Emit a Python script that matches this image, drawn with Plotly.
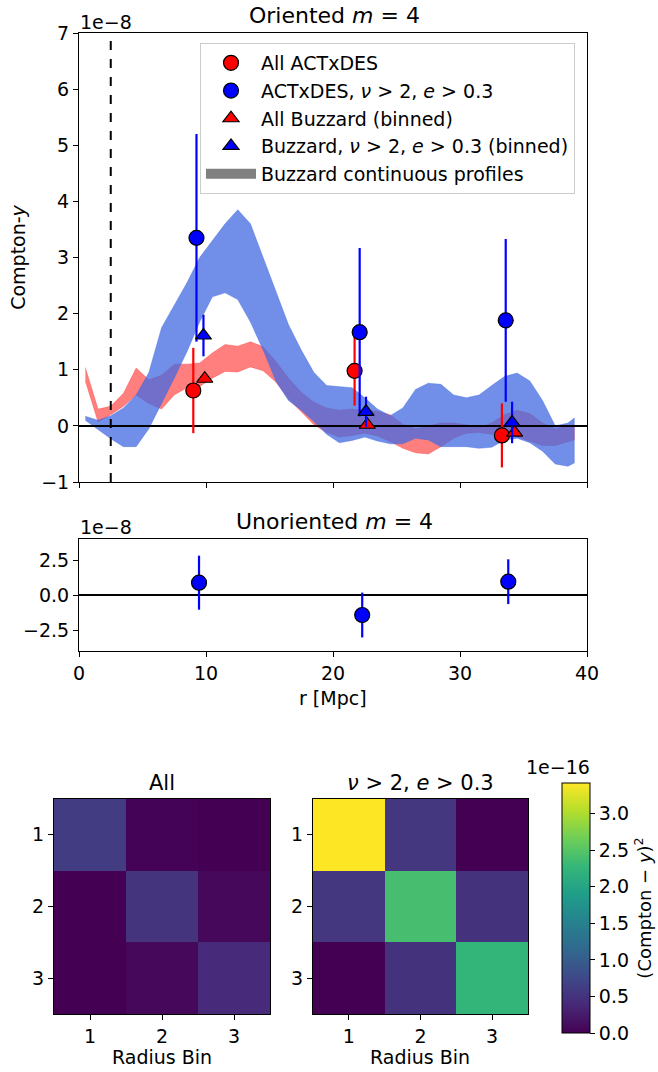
import plotly.graph_objects as go

# ---------------- data (units: 1e-8 for Compton-y, 1e-16 for covariance) ----------------
r_band = [0.5, 1.5, 2.5, 3.5, 4.5, 5.5, 6.5, 7.5, 8.5, 9.5, 10.5, 11.5, 12.5, 13.5, 14.5,
          15.5, 16.5, 17.5, 18.5, 19.5, 20.5, 21.5, 22.5, 23.5, 24.5, 25.5, 26.5, 27.5,
          28.5, 29.5, 30.5, 31.5, 32.5, 33.5, 34.5, 35.5, 36.5, 37.5, 38.5, 39.0]
red_hi = [1.04, 0.30, 0.35, 0.58, 1.03, 0.82, 0.90, 1.10, 1.10, 1.12, 1.30, 1.45, 1.42, 1.50,
          1.41, 1.15, 0.85, 0.60, 0.42, 0.32, 0.28, 0.30, 0.28, 0.26, 0.20, 0.03, -0.05, 0.00,
          0.05, 0.05, 0.02, -0.03, 0.05, 0.20, 0.28, 0.22, 0.05, -0.05, 0.00, 0.02]
red_lo = [0.80, 0.07, 0.20, 0.35, 0.55, 0.40, 0.30, 0.55, 0.68, 0.70, 0.85, 0.97, 0.96, 1.05,
          0.98, 0.78, 0.48, 0.25, 0.02, -0.12, -0.20, -0.17, -0.13, -0.18, -0.28, -0.40, -0.48,
          -0.50, -0.37, -0.22, -0.13, -0.12, -0.15, -0.15, -0.20, -0.28, -0.35, -0.35, -0.28, -0.25]
blue_hi = [0.17, 0.10, 0.18, 0.32, 0.55, 0.95, 1.75, 2.15, 2.55, 3.00, 3.30, 3.60, 3.85, 3.60,
           3.00, 2.40, 1.80, 1.35, 0.95, 0.72, 0.70, 0.68, 0.50, 0.30, 0.18, 0.32, 0.65, 0.76,
           0.74, 0.55, 0.50, 0.55, 0.72, 0.88, 0.94, 0.80, 0.45, 0.00, 0.05, 0.14]
blue_lo = [0.10, -0.07, -0.23, -0.37, -0.37, -0.05, 0.41, 0.85, 1.32, 1.85, 2.30, 2.37, 2.25,
           1.85, 1.35, 0.80, 0.45, 0.28, 0.08, -0.15, -0.30, -0.26, -0.20, -0.27, -0.32, -0.32,
           -0.22, -0.25, -0.37, -0.37, -0.37, -0.40, -0.38, -0.25, -0.22, -0.30, -0.45, -0.68,
           -0.72, -0.66]

act_all_r = [9.0, 21.7, 33.3]
act_all_y = [0.63, 0.98, -0.17]
act_all_err = [0.76, 0.62, 0.57]

act_sel_r = [9.25, 22.1, 33.6]
act_sel_y = [3.35, 1.67, 1.88]
act_sel_err = [1.85, 1.50, 1.45]

buz_all_r = [9.9, 22.7, 34.3]
buz_all_y = [0.84, 0.02, -0.12]
buz_all_err = [0.06, 0.05, 0.05]

buz_sel_r = [9.8, 22.6, 34.1]
buz_sel_y = [1.61, 0.25, 0.06]
buz_sel_err = [0.37, 0.27, 0.37]

unor_r = [9.45, 22.3, 33.8]
unor_y = [0.88, -1.43, 0.95]
unor_err = [1.93, 1.60, 1.60]

r_min_cut = 2.5
x_range = [0, 40]

bins = [1, 2, 3]
cov_all = [[0.62, 0.02, 0.00],
           [0.00, 0.52, 0.07],
           [0.00, 0.07, 0.42]]
cov_sel = [[3.42, 0.55, 0.00],
           [0.55, 2.40, 0.50],
           [0.00, 0.50, 2.25]]

# ---------------- layout helpers ----------------
W, H = 658, 1072
def fx(px):
    return px / W
def fy(py):
    return 1 - py / H

FONT = "DejaVu Sans"
RED_FILL = "rgba(255,0,0,0.5)"
BLUE_FILL = "rgba(65,105,225,0.75)"

fig = go.Figure()

# bands
fig.add_trace(go.Scatter(x=r_band + r_band[::-1], y=red_hi + red_lo[::-1], fill="toself",
                         fillcolor=RED_FILL, line=dict(width=0.5, color=RED_FILL),
                         mode="lines", showlegend=False, hoverinfo="skip",
                         xaxis="x", yaxis="y"))
fig.add_trace(go.Scatter(x=r_band + r_band[::-1], y=blue_hi + blue_lo[::-1], fill="toself",
                         fillcolor=BLUE_FILL, line=dict(width=0.5, color=BLUE_FILL),
                         mode="lines", showlegend=False, hoverinfo="skip",
                         xaxis="x", yaxis="y"))
# zero line
fig.add_trace(go.Scatter(x=x_range, y=[0, 0], mode="lines", line=dict(color="black", width=2),
                         showlegend=False, hoverinfo="skip", xaxis="x", yaxis="y"))

def pts(xs, ys, err, color, symbol, name, xa="x", ya="y", show=True):
    return go.Scatter(x=xs, y=ys, mode="markers", name=name, showlegend=show,
                      marker=dict(color=color, size=15 if symbol == "circle" else 14,
                                  symbol=symbol, line=dict(color="black", width=1.2)),
                      error_y=dict(type="data", array=err, visible=True, color=color,
                                   thickness=2.2, width=0),
                      xaxis=xa, yaxis=ya)

fig.add_trace(pts(act_all_r, act_all_y, act_all_err, "#ff0000", "circle", "All ACTxDES"))
fig.add_trace(pts(act_sel_r, act_sel_y, act_sel_err, "#0000ff", "circle",
                  "ACTxDES, <i>ν</i> > 2, <i>e</i> > 0.3"))
fig.add_trace(pts(buz_all_r, buz_all_y, buz_all_err, "#ff0000", "triangle-up", "All Buzzard (binned)"))
fig.add_trace(pts(buz_sel_r, buz_sel_y, buz_sel_err, "#0000ff", "triangle-up",
                  "Buzzard, <i>ν</i> > 2, <i>e</i> > 0.3 (binned)"))
# legend proxy for the bands (outside the visible range)
fig.add_trace(go.Scatter(x=[-10, -9], y=[-10, -10], mode="lines",
                         line=dict(color="gray", width=15),
                         name="Buzzard continuous profiles", xaxis="x", yaxis="y"))

# unoriented
fig.add_trace(go.Scatter(x=x_range, y=[0, 0], mode="lines", line=dict(color="black", width=2),
                         showlegend=False, hoverinfo="skip", xaxis="x2", yaxis="y2"))
fig.add_trace(pts(unor_r, unor_y, unor_err, "#0000ff", "circle", "unoriented",
                  xa="x2", ya="y2", show=False))

# heatmaps
fig.add_trace(go.Heatmap(z=cov_all, x=bins, y=bins, coloraxis="coloraxis",
                         xaxis="x3", yaxis="y3"))
fig.add_trace(go.Heatmap(z=cov_sel, x=bins, y=bins, coloraxis="coloraxis",
                         xaxis="x4", yaxis="y4"))

zmax = max(max(row) for row in cov_sel + cov_all)

tickfont = dict(family=FONT, size=19, color="black")
axis_common = dict(showgrid=False, zeroline=False, showline=True, linecolor="black",
                   linewidth=1, mirror=True, ticks="outside", ticklen=5, tickwidth=1,
                   tickcolor="black", tickfont=tickfont, automargin=False)

fig.update_layout(
    width=W, height=H, margin=dict(l=0, r=0, t=0, b=0, autoexpand=False),
    paper_bgcolor="white", plot_bgcolor="white",
    font=dict(family=FONT, size=18, color="black"),
    xaxis=dict(domain=[fx(79), fx(587)], range=x_range, tickvals=[0, 10, 20, 30, 40],
               showticklabels=False, anchor="y", **axis_common),
    yaxis=dict(domain=[fy(482), fy(33)], range=[-1, 7], dtick=1, anchor="x",
               title=dict(text="Compton-<i>y</i>", font=dict(family=FONT, size=19), standoff=10),
               **axis_common),
    xaxis2=dict(domain=[fx(79), fx(587)], range=x_range, tickvals=[0, 10, 20, 30, 40],
                anchor="y2", **axis_common),
    yaxis2=dict(domain=[fy(651), fy(539)], range=[-4, 4], tickvals=[-2.5, 0, 2.5],
                ticktext=["−2.5", "0.0", "2.5"], anchor="x2", **axis_common),
    xaxis3=dict(domain=[fx(54), fx(270)], range=[0.5, 3.5], tickvals=bins, anchor="y3",
                **axis_common),
    yaxis3=dict(domain=[fy(1014), fy(799)], range=[3.5, 0.5], tickvals=bins, anchor="x3",
                **axis_common),
    xaxis4=dict(domain=[fx(313), fx(528)], range=[0.5, 3.5], tickvals=bins, anchor="y4",
                **axis_common),
    yaxis4=dict(domain=[fy(1014), fy(799)], range=[3.5, 0.5], tickvals=bins, anchor="x4",
                **axis_common),
    coloraxis=dict(colorscale="Viridis", cmin=0, cmax=zmax,
                   colorbar=dict(x=fx(562), xanchor="left", y=fy(908), yanchor="middle",
                                 len=250 / H, lenmode="fraction", thickness=28,
                                 thicknessmode="pixels", outlinewidth=1, outlinecolor="black",
                                 xpad=0, ypad=0,
                                 ticks="outside", ticklen=5, tickcolor="black",
                                 tickvals=[0, 0.5, 1, 1.5, 2, 2.5, 3],
                                 ticktext=["0.0", "0.5", "1.0", "1.5", "2.0", "2.5", "3.0"],
                                 tickfont=tickfont,
                                 title=dict(text="(Compton − <i>y</i>)<sup>2</sup>", side="right",
                                            font=dict(family=FONT, size=18)))),
    legend=dict(x=fx(200), y=fy(43), xanchor="left", yanchor="top",
                bgcolor="rgba(255,255,255,0.85)", bordercolor="#cccccc", borderwidth=1,
                font=dict(family=FONT, size=19), tracegroupgap=0, itemwidth=50),
)

fig.add_vline(x=r_min_cut, line=dict(color="black", width=2, dash="dash"),
              xref="x", yref="y", layer="above")

def ann(text, x, y, size=20, xanchor="center", yanchor="middle"):
    fig.add_annotation(text=text, x=x, y=y, xref="paper", yref="paper", showarrow=False,
                       xanchor=xanchor, yanchor=yanchor, font=dict(family=FONT, size=size, color="black"))

ann("Oriented <i>m</i> = 4", fx(334), fy(15), size=22)
ann("1e−8", fx(78), fy(22), size=19, xanchor="left")
ann("Unoriented <i>m</i> = 4", fx(334), fy(521), size=22)
ann("1e−8", fx(78), fy(527), size=19, xanchor="left")
ann("r [Mpc]", fx(333), fy(698), size=19)
ann("All", fx(162), fy(783), size=21)
ann("<i>ν</i> > 2, <i>e</i> > 0.3", fx(420), fy(783), size=21)
ann("Radius Bin", fx(162), fy(1057), size=19)
ann("Radius Bin", fx(420), fy(1057), size=19)
ann("1e−16", fx(558), fy(767), size=19)

fig.write_html("out.html", config={"displayModeBar": False},
               post_script="document.body.style.margin='0px';document.body.style.overflow='hidden';")
